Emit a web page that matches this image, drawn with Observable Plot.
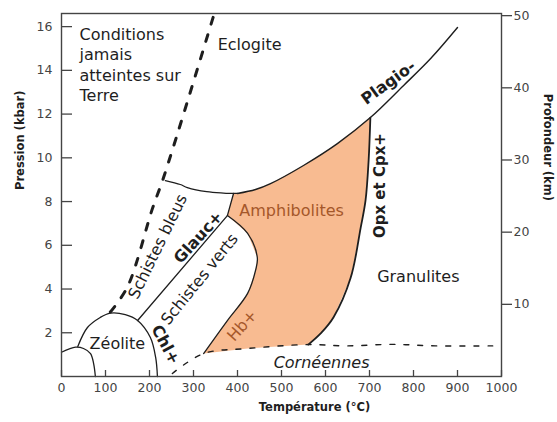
<!DOCTYPE html>
<html><head><meta charset="utf-8">
<script src="https://cdn.jsdelivr.net/npm/d3@7"></script>
<script src="https://cdn.jsdelivr.net/npm/@observablehq/plot@0.6"></script>
<style>
body{margin:0;background:#fff}
svg{font-family:"DejaVu Sans",sans-serif}
</style>
</head><body><div id="chart"></div>
<script>
// ---- data (temperature °C, pressure kbar) ----
const pressureTicks = [2, 4, 6, 8, 10, 12, 14, 16];
const temperatureTicks = [0, 100, 200, 300, 400, 500, 600, 700, 800, 900, 1000];
const depthTicks = [10, 20, 30, 40, 50];
const KM_PER_KBAR = 3.03;

const smallDome = [[0,1.11],[32,1.34],[50,1.28],[66,1.05],[73,0.59],[77,0]];
const zeoliteDome = [[37,1.37],[59,2.24],[88,2.70],[111,2.90],[145,2.83],[173,2.56],[202,1.78],[214,0.87],[218,0]];
const blueschistLimit = [[111,2.95],[150,4.1],[207,7.7],[232,9.1],[345,16.45]];
const greenschistLine = [[173,2.56],[377,7.36],[391,8.37]];
const eclogiteLine = [[236,8.96],[270,8.78],[286,8.64],[330,8.45],[368,8.39],[400,8.37]];
const plagioLine = [[400,8.37],[441,8.55],[475,8.82],[550,9.65],[627,10.65],[702,11.84],[777,13.3],[839,14.54],[900,15.96]];
const opxLine = [[702,11.84],[698,9.88],[691,8.05],[680,6.81],[657,4.5],[618,2.70],[589,1.97],[561,1.46]];
const amphLeft = [[377,7.36],[423,6.54],[445,5.44],[441,4.85],[423,3.80],[377,2.56],[323,1.05]];
const hornfelsLine = [[252,0.14],[323,1.05],[423,1.28],[561,1.46],[650,1.40],[750,1.47],[850,1.40],[980,1.40]];

const labelTexts = ["Conditions\njamais\natteintes sur\nTerre","Eclogite","Plagio-","Opx et Cpx+","Amphibolites","Granulites","Cornéennes","Hb+","Zéolite","Chl+","Schistes verts","Glauc+","Schistes bleus"];
const labelT = [41, 355, 743, 725, 523, 811, 591, 411, 127, 236, 314, 311, 219];
const labelP = [14.29, 15.18, 13.44, 8.73, 7.59, 4.57, 0.64, 2.33, 1.51, 1.46, 4.44, 6.36, 5.94];

// ---- layout / styles ----
const W = 557, H = 422;
const mL = 61, mR = 56, mT = 13, mB = 46;
const ink = "#1e1e1e", axisInk = "#444";
const orange = "#f8bb91", brown = "#a5572a";

const amphPolygon = [[391,8.37], ...plagioLine.slice(0,6), ...opxLine.slice(1), [423,1.28], ...[...amphLeft].reverse()];

const lab = labelTexts.map((t,i)=>({text:t, T:labelT[i], P:labelP[i]}));
const L = name => lab.filter(d => d.text === name);
const X = d => d[0], Y = d => d[1];

const plain = {x:"T", y:"P", text:"text", fontSize:16, fill:ink};

const chart = Plot.plot({
  width: W, height: H,
  marginLeft: mL, marginRight: mR, marginTop: mT, marginBottom: mB,
  x: {domain:[0,1000]},
  y: {domain:[0,16.6]},
  style: {fontFamily:'"DejaVu Sans", sans-serif', background:"#fff"},
  marks: [
    Plot.line(amphPolygon, {x:X, y:Y, fill:orange, stroke:"none", curve:"linear-closed"}),
    Plot.line(smallDome, {x:X, y:Y, stroke:ink, strokeWidth:1.3, curve:"catmull-rom"}),
    Plot.line(zeoliteDome, {x:X, y:Y, stroke:ink, strokeWidth:1.3, curve:"catmull-rom"}),
    Plot.line(blueschistLimit, {x:X, y:Y, stroke:ink, strokeWidth:3, strokeDasharray:"7,11", curve:"catmull-rom"}),
    Plot.line(greenschistLine, {x:X, y:Y, stroke:ink, strokeWidth:1.3}),
    Plot.line(eclogiteLine, {x:X, y:Y, stroke:ink, strokeWidth:1.3, curve:"catmull-rom"}),
    Plot.line(plagioLine, {x:X, y:Y, stroke:ink, strokeWidth:1.4, curve:"catmull-rom"}),
    Plot.line(opxLine, {x:X, y:Y, stroke:ink, strokeWidth:1.8, curve:"catmull-rom"}),
    Plot.line(amphLeft, {x:X, y:Y, stroke:ink, strokeWidth:1.3, curve:"catmull-rom"}),
    Plot.line(hornfelsLine, {x:X, y:Y, stroke:ink, strokeWidth:1.4, strokeDasharray:"5,9", curve:"catmull-rom"}),

    // region labels
    Plot.text(L("Conditions\njamais\natteintes sur\nTerre"), {...plain, textAnchor:"start", lineHeight:1.27}),
    Plot.text(L("Eclogite"), {...plain, textAnchor:"start"}),
    Plot.text(L("Plagio-"), {...plain, fontWeight:"bold", rotate:-36}),
    Plot.text(L("Opx et Cpx+"), {...plain, fontSize:15, fontWeight:"bold", rotate:-90}),
    Plot.text(L("Amphibolites"), {...plain, fill:brown}),
    Plot.text(L("Granulites"), plain),
    Plot.text(L("Cornéennes"), {...plain, fontStyle:"italic"}),
    Plot.text(L("Hb+"), {...plain, fill:brown, rotate:-48}),
    Plot.text(L("Zéolite"), plain),
    Plot.text(L("Chl+"), {...plain, fontWeight:"bold", rotate:62}),
    Plot.text(L("Schistes verts"), {...plain, rotate:-51}),
    Plot.text(L("Glauc+"), {...plain, fontWeight:"bold", rotate:-48}),
    Plot.text(L("Schistes bleus"), {...plain, rotate:-64}),

    // axes
    Plot.frame({stroke:axisInk, strokeWidth:1.4}),
    Plot.axisX(temperatureTicks, {tickSize:0, tickPadding:7, fontSize:12.5, fill:axisInk, label:null, tickFormat:d=>String(d)}),
    Plot.tickX(temperatureTicks, {x:d=>d, stroke:axisInk, strokeWidth:1.3, insetTop:(H-mT-mB)-6}),
    Plot.axisY(pressureTicks, {tickSize:0, tickPadding:9, fontSize:12.5, fill:axisInk, label:null}),
    Plot.tickY(pressureTicks, {y:d=>d, stroke:axisInk, strokeWidth:1.3, insetRight:(W-mL-mR)-11}),
    Plot.axisY(depthTicks.map(k=>k/KM_PER_KBAR), {anchor:"right", tickSize:10, tickPadding:2, fontSize:12.5, fill:axisInk, stroke:axisInk, strokeWidth:1.3,
      tickFormat:d=>String(Math.round(d*KM_PER_KBAR)), label:null}),

    // axis titles
    Plot.text(["Pression (kbar)"], {frameAnchor:"left", dx:-41, dy:-5, rotate:-90, fontSize:11.5, fontWeight:"bold", fill:ink}),
    Plot.text(["Profondeur (km)"], {frameAnchor:"right", dx:46, dy:6, rotate:90, fontSize:11.5, fontWeight:"bold", fill:ink}),
    Plot.text(["Température (°C)"], {frameAnchor:"bottom", dx:33, dy:34, fontSize:11.5, fontWeight:"bold", fill:ink})
  ]
});
document.getElementById("chart").appendChild(chart);
</script>
</body></html>
